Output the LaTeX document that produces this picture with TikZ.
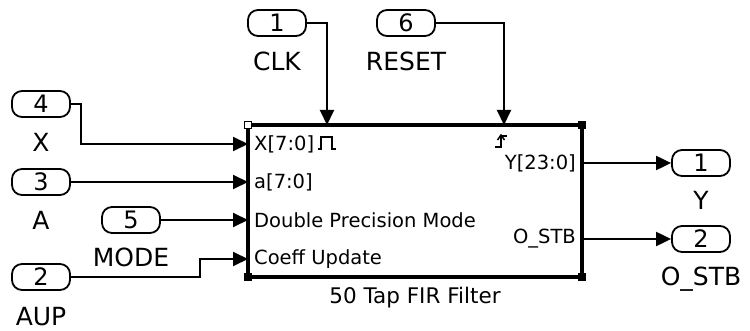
\documentclass[tikz,border=0pt]{standalone}
\usepackage{fontspec}
\setmainfont{DejaVu Sans}
\usetikzlibrary{arrows.meta,positioning,calc}

\begin{document}
\begin{tikzpicture}[x=1pt,y=-1pt,>={Triangle[length=15pt,width=14pt]}]
\tikzset{
  port/.style={draw,line width=1.8pt,rounded corners=10pt,minimum width=58pt,minimum height=26pt,inner sep=0pt,font=\fontsize{24}{26}\selectfont},
  sig/.style={inner sep=0pt,font=\fontsize{25}{27}\selectfont},
  pin/.style={inner sep=0pt,font=\fontsize{19.5}{21}\selectfont},
  wire/.style={line width=2pt},
  blk/.style={draw,line width=3.2pt,minimum width=334pt,minimum height=152pt,inner sep=0pt,outer sep=0pt},
  corner/.style={draw,line width=1.2pt,minimum size=7pt,inner sep=0pt,fill=black}
}
\useasboundingbox (0,0) rectangle (750,331);
% filter block
\node[blk] (fir) at (415,201) {};
\node[corner,fill=white] (cnw) at (fir.north west) {};
\node[corner] (cne) at (fir.north east) {};
\node[corner] (csw) at (fir.south west) {};
\node[corner] (cse) at (fir.south east) {};
\node[inner sep=0pt,font=\fontsize{21.5}{23}\selectfont,below=10pt of fir] (title) {50 Tap FIR Filter};
% port positions on the block
\coordinate (xin) at ($(fir.north west)+(0,19)$);
\coordinate (ain) at ($(fir.north west)+(0,57)$);
\coordinate (min) at ($(fir.north west)+(0,95)$);
\coordinate (cin) at ($(fir.north west)+(0,134)$);
\coordinate (clkin) at ($(fir.north west)+(79,0)$);
\coordinate (rstin) at ($(fir.north west)+(256,0)$);
\coordinate (yout) at ($(fir.north east)+(0,38)$);
\coordinate (oout) at ($(fir.north east)+(0,114)$);
\node[pin,anchor=west] (xl) at ($(xin)+(6,0)$) {X[7:0]};
\node[pin,anchor=west] (al) at ($(ain)+(6,0)$) {a[7:0]};
\node[pin,anchor=west] (ml) at ($(min)+(6,0)$) {Double Precision Mode};
\node[pin,anchor=west] (cl) at ($(cin)+(6,0)$) {Coeff Update};
\node[pin,anchor=east] (yl) at ($(yout)+(-6,0)$) {Y[23:0]};
\node[pin,anchor=east] (ol) at ($(oout)+(-6,0)$) {O\_STB};
% clock and reset marks
\draw[line width=1.8pt] ($(xl.east)+(4,5)$) -- ++(3,0) -- ++(0,-12) -- ++(11,0) -- ++(0,12) -- ++(4,0);
\draw[line width=1.5pt] (495,147) -- (501,147) -- (501,136) -- (507,136);
\draw[line width=1.5pt] (497.5,140) -- (501,135) -- (504.5,140);
% inports
\node[port] (p1) at (277,23) {1};
\node[sig,below=15pt of p1] (clk) {CLK};
\node[port] (p6) at (406,23) {6};
\node[sig,below=15pt of p6] (rst) {RESET};
\node[port] (p4) at (41,104) {4};
\node[sig,below=15pt of p4] (xs) {X};
\node[port] (p3) at ($(ain)+(-207,0)$) {3};
\node[sig,below=15pt of p3] (as) {A};
\node[port] (p5) at ($(min)+(-117,0)$) {5};
\node[sig,below=14pt of p5] (ms) {MODE};
\node[port] (p2) at (41,277) {2};
\node[sig,below=16pt of p2] (aups) {AUP};
% outports
\node[port] (q1) at ($(yout)+(119,0)$) {1};
\node[sig,below=14pt of q1] (ys) {Y};
\node[port] (q2) at ($(oout)+(119,0)$) {2};
\node[sig,below=14pt of q2] (os) {O\_STB};
% wires
\draw[wire,->] (p1.east) -| (clkin);
\draw[wire,->] (p6.east) -| (rstin);
\draw[wire,->] (p4.east) -- ++(10,0) |- (xin);
\draw[wire,->] (p3.east) -- (ain);
\draw[wire,->] (p5.east) -- (min);
\draw[wire,->] (p2.east) -- ++(129,0) |- (cin);
\draw[wire,->] (yout) -- (q1.west);
\draw[wire,->] (oout) -- (q2.west);
\end{tikzpicture}
\end{document}
